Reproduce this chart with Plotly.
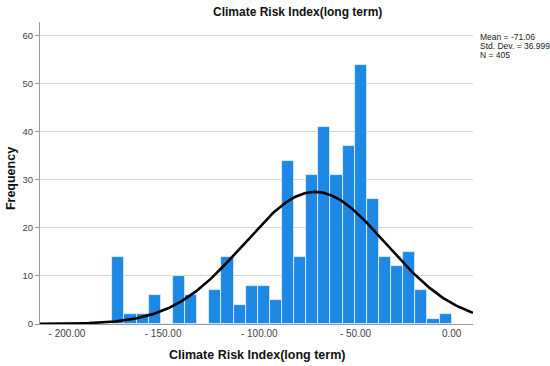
import numpy as np
import plotly.graph_objects as go

# ---- data ----
bin_start = -176.4
bin_width = 6.3
counts = [14, 2, 2, 6, 0, 10, 6, 0, 7, 14, 4, 8, 8, 5,
          34, 14, 31, 41, 31, 37, 54, 26, 14, 12, 15, 7, 1, 2]
stat_mean = -71.06
stat_sd = 36.999
stat_n = 405
x_tickvals = [-200, -150, -100, -50, 0]
x_ticktext = ["- 200.00", "- 150.00", "- 100.00", "- 50.00", "0.00"]
y_tickvals = [0, 10, 20, 30, 40, 50, 60]
title_text = "Climate Risk Index(long term)"
x_range = [-214.0, 11.1]
y_range = [0, 62.9]

centers = bin_start + bin_width * (np.arange(len(counts)) + 0.5)

# fitted normal curve from the displayed statistics
xc = np.linspace(x_range[0], x_range[1], 400)
yc = stat_n * bin_width * np.exp(-0.5 * ((xc - stat_mean) / stat_sd) ** 2) / (stat_sd * np.sqrt(2 * np.pi))

FONT = "Liberation Sans, Arial, sans-serif"

fig = go.Figure()
fig.add_trace(go.Bar(x=centers, y=counts, width=bin_width,
                     marker=dict(color="#1e88e5", line=dict(color="#e6f1fb", width=0.8)),
                     hoverinfo="x+y", showlegend=False))
fig.add_trace(go.Scatter(x=xc, y=yc, mode="lines",
                         line=dict(color="black", width=2.6), showlegend=False,
                         hoverinfo="skip"))

fig.update_layout(
    width=550, height=366,
    margin=dict(l=40, r=77, t=22, b=42),
    plot_bgcolor="white", paper_bgcolor="white",
    bargap=0,
    font=dict(family=FONT, color="#333"),
    xaxis=dict(range=x_range, tickvals=x_tickvals, ticktext=x_ticktext,
               showgrid=False, zeroline=False, showline=True, linecolor="#9a9a9a",
               linewidth=1, ticks="", tickfont=dict(size=10, color="#444")),
    yaxis=dict(range=y_range, tickvals=y_tickvals, showgrid=True, gridcolor="#d6d6d6",
               gridwidth=1, zeroline=False, showline=True, linecolor="#9a9a9a",
               linewidth=1, ticks="outside", ticklen=4, tickcolor="#9a9a9a",
               tickfont=dict(size=9.5, color="#444")),
)

annotations = [
    dict(text="<b>" + title_text + "</b>", x=0.594, y=1.033, xref="paper", yref="paper",
         xanchor="center", yanchor="middle", showarrow=False,
         font=dict(size=12, color="#111", family=FONT)),
    dict(text="<b>" + title_text + "</b>", x=0.501, y=-0.103, xref="paper", yref="paper",
         xanchor="center", yanchor="middle", showarrow=False,
         font=dict(size=12.5, color="#111", family=FONT)),
    dict(text="<b>Frequency</b>", x=-0.067, y=0.483, xref="paper", yref="paper",
         xanchor="center", yanchor="middle", showarrow=False, textangle=-90,
         font=dict(size=12.5, color="#111", family=FONT)),
]
stat_lines = ["Mean = %.2f" % stat_mean, "Std. Dev. = %.3f" % stat_sd, "N = %d" % stat_n]
for i, s in enumerate(stat_lines):
    annotations.append(dict(text=s, x=1.0115, y=0.950 - i * 0.0298, xref="paper", yref="paper",
                            xanchor="left", yanchor="middle", showarrow=False,
                            font=dict(size=8.5, color="#222", family=FONT)))
fig.update_layout(annotations=annotations)

fig.write_html("out.html", config={"displayModeBar": False},
               post_script="document.body.style.margin='0px';document.body.style.overflow='hidden';")
